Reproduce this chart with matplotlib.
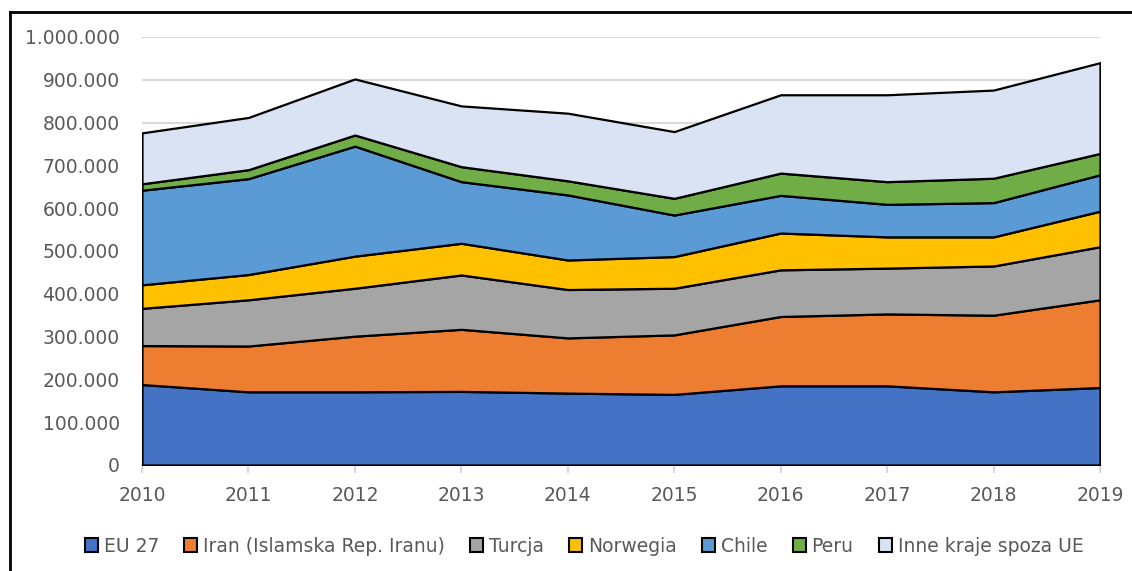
import matplotlib
matplotlib.use("Agg")
import matplotlib.pyplot as plt
from matplotlib.lines import Line2D
from matplotlib.patches import Patch
from matplotlib.ticker import FuncFormatter, MultipleLocator

years = [2010, 2011, 2012, 2013, 2014, 2015, 2016, 2017, 2018, 2019]
labels = ["EU 27", "Iran (Islamska Rep. Iranu)", "Turcja", "Norwegia", "Chile", "Peru", "Inne kraje spoza UE"]
eu27 = [188000, 171000, 171000, 172000, 168000, 165000, 185000, 185000, 171000, 181000]
iran = [91000, 107000, 130000, 145000, 129000, 139000, 162000, 168000, 179000, 205000]
turcja = [87000, 108000, 112000, 127000, 113000, 109000, 109000, 107000, 115000, 124000]
norwegia = [55000, 59000, 75000, 74000, 69000, 74000, 86000, 73000, 68000, 83000]
chile = [221000, 224000, 257000, 144000, 152000, 97000, 88000, 76000, 80000, 85000]
peru = [15000, 21000, 26000, 35000, 33000, 39000, 52000, 53000, 57000, 50000]
inne = [119000, 122000, 131000, 142000, 158000, 156000, 183000, 203000, 206000, 212000]

colors = ["#4472C4", "#ED7D31", "#A5A5A5", "#FFC000", "#5B9BD5", "#70AD47", "#DAE3F3"]

fig = plt.figure(figsize=(11.32, 5.71), dpi=100)
ax = fig.add_axes([142/1132, 1-465/571, (1100-142)/1132, (465-37)/571])

series = [eu27, iran, turcja, norwegia, chile, peru, inne]
ax.stackplot(years, *series, colors=colors, edgecolor="black", linewidth=1.6, zorder=3)

ax.set_xlim(2010, 2019)
ax.set_ylim(0, 1000000)
ax.yaxis.set_major_locator(MultipleLocator(100000))
ax.yaxis.set_major_formatter(FuncFormatter(lambda v, p: f"{int(v):,}".replace(",", ".")))
ax.set_xticks(years)
ax.grid(axis="y", color="#D9D9D9", linewidth=1.5, zorder=0)
ax.set_axisbelow(True)
for s in ["top", "right", "left"]:
    ax.spines[s].set_visible(False)
ax.spines["bottom"].set_color("#D9D9D9")
ax.spines["bottom"].set_linewidth(1.5)
ax.tick_params(axis="y", length=0, pad=16, labelsize=13.5, labelcolor="#595959")
ax.tick_params(axis="x", length=6, width=1.5, color="#D9D9D9", pad=9, labelsize=13.5, labelcolor="#595959")

handles = [Patch(facecolor=c, edgecolor="black", linewidth=1.5) for c in colors]
fig.legend(handles, labels, loc="center", bbox_to_anchor=(584/1132, 1-546/571), ncol=7,
           frameon=False, fontsize=13.5, handlelength=0.7, handleheight=0.7,
           handletextpad=0.3, columnspacing=1.35, labelcolor="#595959")

x0 = 10/1132
y0 = 1 - 12/571
fig.add_artist(Line2D([x0, 1.05], [y0, y0], transform=fig.transFigure, color="black", linewidth=2))
fig.add_artist(Line2D([x0, x0], [-0.05, y0], transform=fig.transFigure, color="black", linewidth=2))

fig.savefig("out.png", dpi=100)
